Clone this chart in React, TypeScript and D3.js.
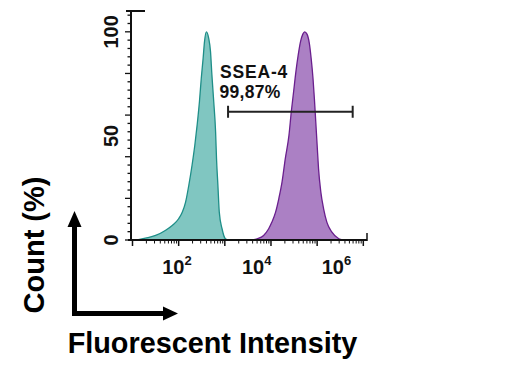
import React from "react";
import * as d3 from "d3";

// Histogram data: log10(fluorescence) vs count (%)
const tealLog = [1.1, 1.28, 1.5, 1.71, 1.86, 2.0, 2.08, 2.15, 2.22, 2.29, 2.35, 2.4, 2.45, 2.49, 2.53, 2.56, 2.6, 2.65, 2.69, 2.72, 2.76, 2.8, 2.82, 2.85, 2.88, 2.94, 3.01, 3.06];
const tealCount = [0, 0.9, 2.2, 4.6, 7.0, 10.2, 13.4, 18.2, 26.3, 35.9, 45.5, 55.2, 66.4, 77.7, 87.3, 95.3, 100, 97, 90.5, 79.3, 66.4, 52, 39.1, 26.3, 13.4, 5.4, 0.6, 0];

const purpleLog = [3.6, 3.7, 3.84, 3.95, 4.02, 4.1, 4.17, 4.24, 4.31, 4.39, 4.44, 4.49, 4.54, 4.59, 4.64, 4.69, 4.73, 4.78, 4.83, 4.87, 4.91, 4.94, 4.97, 5.0, 5.03, 5.08, 5.14, 5.21, 5.32, 5.47, 5.55];
const purpleCount = [0, 0.6, 2.2, 5.4, 8.6, 13.4, 19.9, 27.9, 39.1, 50.4, 61.6, 71.2, 80.9, 88.9, 95.3, 98.9, 100, 98.9, 94.6, 87.3, 77.7, 68, 56.8, 45.5, 34.3, 23, 15, 8.6, 3.8, 0.6, 0];

const xMajorExps = [1, 2, 3, 4, 5, 6];
const xLabelExps = [2, 4, 6];
const yLabels = [0, 50, 100];
const gateLog = [3.07, 5.77];
const gateLevel = 61.6;
const gateName = "SSEA-4";
const gatePct = "99,87%";
const xTitle = "Fluorescent Intensity";
const yTitle = "Count (%)";

const FONT = "'Liberation Sans', Arial, Helvetica, sans-serif";

export default function App() {
  const x = d3.scaleLog().domain([10, Math.pow(10, 6.08)]).range([132.5, 367]);
  const y = d3.scaleLinear().domain([0, 110]).range([240, 11]);
  const labelX = d3.scaleLog().domain([1e2, 1e6]).range([177, 336.5]);

  const area = d3
    .area<[number, number]>()
    .x((d) => x(Math.pow(10, d[0])))
    .y0(y(0))
    .y1((d) => y(d[1]))
    .curve(d3.curveMonotoneX);
  const line = d3
    .line<[number, number]>()
    .x((d) => x(Math.pow(10, d[0])))
    .y((d) => y(d[1]))
    .curve(d3.curveMonotoneX);

  const teal: [number, number][] = tealLog.map((l, i) => [l, tealCount[i]]);
  const purple: [number, number][] = purpleLog.map((l, i) => [l, purpleCount[i]]);

  const [d0, d1] = x.domain();
  const minorX: number[] = [];
  for (let e = 1; e <= 6; e++) {
    for (let m = 2; m <= 9; m++) {
      const v = m * Math.pow(10, e);
      if (v >= d0 && v <= d1) minorX.push(v);
    }
  }
  const yTicks = d3.range(0, 109, 4);

  const gx0 = x(Math.pow(10, gateLog[0]));
  const gx1 = x(Math.pow(10, gateLog[1]));
  const gy = y(gateLevel);

  return (
    <svg width={507} height={376} style={{ position: "absolute", left: 0, top: 0, background: "#fff" }} fontFamily={FONT}>
      <rect width={507} height={376} fill="#fff" />
      <path d={area(teal) || ""} fill="#80c6c1" />
      <path d={line(teal) || ""} fill="none" stroke="#1e8e88" strokeWidth={1.3} />
      <path d={area(purple) || ""} fill="#ab80c4" />
      <path d={line(purple) || ""} fill="none" stroke="#6a1f8e" strokeWidth={1.3} />

      {/* y axis */}
      <line x1={131} x2={131} y1={y(110)} y2={y(0) + 1} stroke="#111" strokeWidth={2} />
      <line x1={126} x2={145} y1={y(110)} y2={y(110)} stroke="#111" strokeWidth={2} />
      {yTicks.map((t) => (
        <line key={"yt" + t} x1={t % 20 === 0 ? 125 : 127.5} x2={131} y1={y(t)} y2={y(t)} stroke="#111" strokeWidth={1.3} />
      ))}
      {yLabels.map((t) => (
        <text key={"yl" + t} transform={`translate(117.5,${y(t)}) rotate(-90)`} textAnchor="middle" fontSize={20} fontWeight="bold" fill="#111">
          {t}
        </text>
      ))}

      {/* x axis */}
      <line x1={128} x2={367} y1={240} y2={240} stroke="#111" strokeWidth={2} />
      {xMajorExps.map((e) => (
        <line key={"xm" + e} x1={x(Math.pow(10, e))} x2={x(Math.pow(10, e))} y1={240} y2={246} stroke="#111" strokeWidth={1.5} />
      ))}
      {minorX.map((v, i) => (
        <line key={"xn" + i} x1={x(v)} x2={x(v)} y1={240} y2={243.5} stroke="#111" strokeWidth={1} />
      ))}
      <line x1={367} x2={367} y1={233} y2={241} stroke="#111" strokeWidth={1.5} />
      {xLabelExps.map((e) => (
        <text key={"xl" + e} x={labelX(Math.pow(10, e))} y={273.5} textAnchor="middle" fontSize={20} fontWeight="bold" fill="#111">
          10
          <tspan fontSize={13} dy={-8.5}>{e}</tspan>
        </text>
      ))}

      {/* gate */}
      <line x1={gx0} x2={gx1} y1={gy} y2={gy} stroke="#222" strokeWidth={2} />
      <line x1={gx0} x2={gx0} y1={gy - 6} y2={gy + 6} stroke="#222" strokeWidth={2} />
      <line x1={gx1} x2={gx1} y1={gy - 6} y2={gy + 6} stroke="#222" strokeWidth={2} />
      <text x={gx0 - 8} y={gy - 34} fontSize={17.5} fontWeight="bold" fill="#111" letterSpacing={0.8}>
        {gateName}
      </text>
      <text x={gx0 - 8.5} y={gy - 14} fontSize={17.5} fontWeight="bold" fill="#111" letterSpacing={0.3}>
        {gatePct}
      </text>

      {/* arrows */}
      <path d="M74.5,225 L74.5,313.5 L164,313.5" fill="none" stroke="#000" strokeWidth={5} strokeLinejoin="miter" />
      <polygon points="67.5,227 74.5,211 81.5,227" fill="#000" />
      <polygon points="163,306.5 178,313.5 163,320.5" fill="#000" />

      {/* titles */}
      <text transform="translate(44,245) rotate(-90)" textAnchor="middle" fontSize={29} fontWeight="bold" fill="#000">
        {yTitle}
      </text>
      <text x={212.5} y={353} textAnchor="middle" fontSize={28.8} fontWeight="bold" fill="#000">
        {xTitle}
      </text>
    </svg>
  );
}
